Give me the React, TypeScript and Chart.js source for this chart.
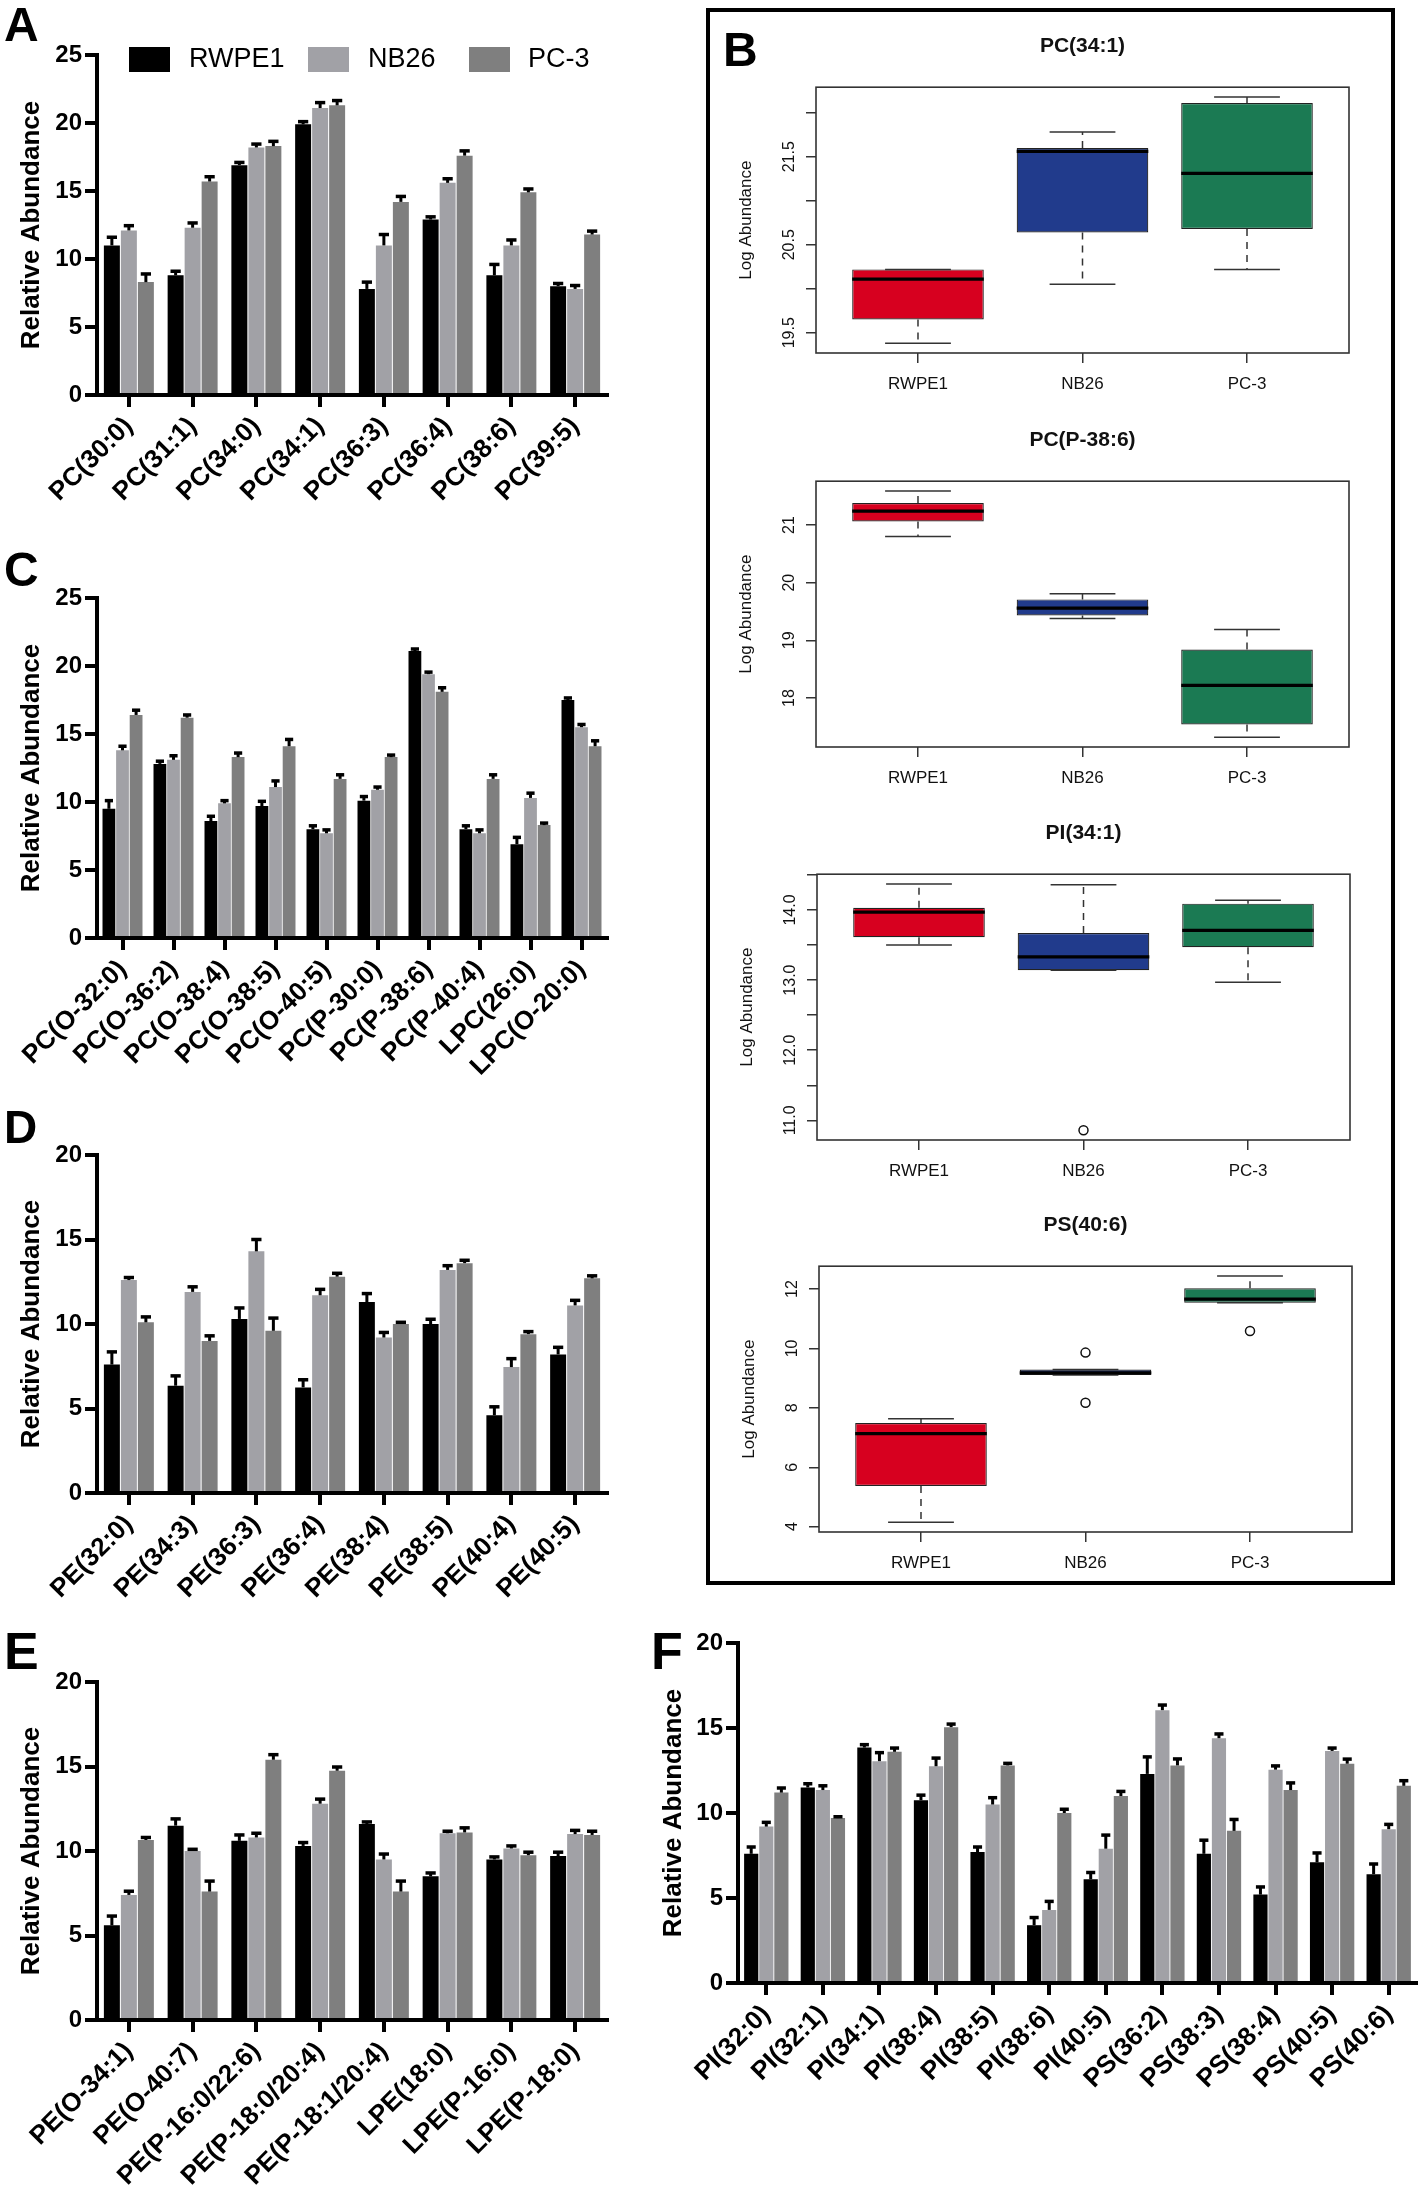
import React, { useEffect, useRef } from "react";
import { Chart, registerables } from "chart.js";

Chart.register(...registerables);

const FONT = "'Liberation Sans', Arial, Helvetica, sans-serif";
Chart.defaults.font.family = FONT;
Chart.defaults.color = "#000";

// ---------------- shared ----------------
const GROUPS = ["RWPE1", "NB26", "PC-3"];
const BAR_COLORS = ["#000000", "#a1a1a6", "#7f7f7f"];
const BOX_COLORS = ["#d7001f", "#213b8c", "#1b7a53"];

// ---------------- Panel A ----------------
const A_CATS = ["PC(30:0)", "PC(31:1)", "PC(34:0)", "PC(34:1)", "PC(36:3)", "PC(36:4)", "PC(38:6)", "PC(39:5)"];
const A_RWPE1 = [11.0, 8.8, 16.9, 19.9, 7.8, 12.9, 8.8, 8.0];
const A_RWPE1_ERR = [0.6, 0.3, 0.2, 0.2, 0.5, 0.2, 0.8, 0.2];
const A_NB26 = [12.1, 12.3, 18.2, 21.1, 11.0, 15.6, 11.0, 7.8];
const A_NB26_ERR = [0.35, 0.35, 0.25, 0.4, 0.8, 0.3, 0.4, 0.25];
const A_PC3 = [8.3, 15.7, 18.3, 21.3, 14.2, 17.6, 14.9, 11.8];
const A_PC3_ERR = [0.6, 0.35, 0.35, 0.35, 0.4, 0.35, 0.25, 0.25];
const A_YTICKS = [0, 5, 10, 15, 20, 25];

// ---------------- Panel C ----------------
const C_CATS = ["PC(O-32:0)", "PC(O-36:2)", "PC(O-38:4)", "PC(O-38:5)", "PC(O-40:5)", "PC(P-30:0)", "PC(P-38:6)", "PC(P-40:4)", "LPC(26:0)", "LPC(O-20:0)"];
const C_RWPE1 = [9.5, 12.8, 8.6, 9.7, 8.0, 10.1, 21.1, 8.0, 6.9, 17.5];
const C_RWPE1_ERR = [0.6, 0.2, 0.35, 0.35, 0.25, 0.3, 0.15, 0.25, 0.5, 0.15];
const C_NB26 = [13.8, 13.1, 9.9, 11.1, 7.7, 10.9, 19.4, 7.7, 10.3, 15.5];
const C_NB26_ERR = [0.3, 0.3, 0.2, 0.45, 0.25, 0.2, 0.15, 0.25, 0.35, 0.2];
const C_PC3 = [16.4, 16.2, 13.3, 14.1, 11.7, 13.3, 18.1, 11.7, 8.3, 14.1];
const C_PC3_ERR = [0.35, 0.2, 0.3, 0.5, 0.3, 0.15, 0.3, 0.3, 0.15, 0.4];
const C_YTICKS = [0, 5, 10, 15, 20, 25];

// ---------------- Panel D ----------------
const D_CATS = ["PE(32:0)", "PE(34:3)", "PE(36:3)", "PE(36:4)", "PE(38:4)", "PE(38:5)", "PE(40:4)", "PE(40:5)"];
const D_RWPE1 = [7.6, 6.35, 10.3, 6.25, 11.3, 10.0, 4.6, 8.2];
const D_RWPE1_ERR = [0.75, 0.58, 0.65, 0.45, 0.5, 0.28, 0.5, 0.42];
const D_NB26 = [12.6, 11.9, 14.3, 11.7, 9.2, 13.2, 7.45, 11.1];
const D_NB26_ERR = [0.15, 0.3, 0.7, 0.35, 0.3, 0.25, 0.5, 0.3];
const D_PC3 = [10.1, 9.0, 9.6, 12.8, 10.0, 13.6, 9.4, 12.7];
const D_PC3_ERR = [0.32, 0.3, 0.75, 0.2, 0.1, 0.17, 0.15, 0.15];
const D_YTICKS = [0, 5, 10, 15, 20];

// ---------------- Panel E ----------------
const E_CATS = ["PE(O-34:1)", "PE(O-40:7)", "PE(P-16:0/22:6)", "PE(P-18:0/20:4)", "PE(P-18:1/20:4)", "LPE(18:0)", "LPE(P-16:0)", "LPE(P-18:0)"];
const E_RWPE1 = [5.6, 11.5, 10.6, 10.3, 11.6, 8.5, 9.5, 9.7];
const E_RWPE1_ERR = [0.55, 0.4, 0.35, 0.2, 0.12, 0.2, 0.15, 0.23];
const E_NB26 = [7.4, 10.0, 10.8, 12.8, 9.5, 11.05, 10.15, 11.0];
const E_NB26_ERR = [0.22, 0.1, 0.25, 0.27, 0.32, 0.12, 0.15, 0.22];
const E_PC3 = [10.65, 7.6, 15.4, 14.75, 7.6, 11.1, 9.75, 10.95];
const E_PC3_ERR = [0.15, 0.62, 0.3, 0.22, 0.62, 0.27, 0.18, 0.22];
const E_YTICKS = [0, 5, 10, 15, 20];

// ---------------- Panel F ----------------
const F_CATS = ["PI(32:0)", "PI(32:1)", "PI(34:1)", "PI(38:4)", "PI(38:5)", "PI(38:6)", "PI(40:5)", "PS(36:2)", "PS(38:3)", "PS(38:4)", "PS(40:5)", "PS(40:6)"];
const F_RWPE1 = [7.6, 11.5, 13.85, 10.75, 7.7, 3.4, 6.1, 12.3, 7.6, 5.2, 7.1, 6.4];
const F_RWPE1_ERR = [0.4, 0.22, 0.17, 0.3, 0.3, 0.45, 0.4, 1.0, 0.8, 0.45, 0.55, 0.6];
const F_NB26 = [9.2, 11.35, 13.05, 12.75, 10.5, 4.3, 7.9, 16.05, 14.4, 12.55, 13.65, 9.05];
const F_NB26_ERR = [0.25, 0.25, 0.5, 0.48, 0.4, 0.5, 0.8, 0.3, 0.25, 0.22, 0.17, 0.28];
const F_PC3 = [11.2, 9.7, 13.6, 15.05, 12.8, 10.0, 11.0, 12.8, 8.95, 11.35, 12.9, 11.6];
const F_PC3_ERR = [0.27, 0.08, 0.22, 0.18, 0.12, 0.22, 0.27, 0.38, 0.67, 0.42, 0.27, 0.3];
const F_YTICKS = [0, 5, 10, 15, 20];

// ---------------- Panel B (box plots) ----------------
const GROUP_POS = [1, 2, 3];

const B1_TITLE = "PC(34:1)";
const B1_LOW = [19.38, 20.05, 20.22];
const B1_Q1 = [19.65, 20.64, 20.68];
const B1_MED = [20.11, 21.56, 21.31];
const B1_Q3 = [20.22, 21.6, 22.11];
const B1_HIGH = [20.22, 21.78, 22.18];
const B1_OUT_X: number[] = [];
const B1_OUT_Y: number[] = [];
const B1_TICKS = [19.5, 20.0, 20.5, 21.0, 21.5, 22.0];
const B1_TICK_LABELS = ["19.5", "", "20.5", "", "21.5", ""];

const B2_TITLE = "PC(P-38:6)";
const B2_LOW = [20.8, 19.38, 17.32];
const B2_Q1 = [21.06, 19.43, 17.54];
const B2_MED = [21.24, 19.56, 18.22];
const B2_Q3 = [21.38, 19.71, 18.84];
const B2_HIGH = [21.59, 19.81, 19.19];
const B2_OUT_X: number[] = [];
const B2_OUT_Y: number[] = [];
const B2_TICKS = [18, 19, 20, 21];
const B2_TICK_LABELS = ["18", "19", "20", "21"];

const B3_TITLE = "PI(34:1)";
const B3_LOW = [13.5, 13.14, 12.97];
const B3_Q1 = [13.61, 13.14, 13.47];
const B3_MED = [13.97, 13.33, 13.71];
const B3_Q3 = [14.03, 13.67, 14.09];
const B3_HIGH = [14.37, 14.36, 14.14];
const B3_OUT_X = [2];
const B3_OUT_Y = [10.86];
const B3_TICKS = [11.0, 11.5, 12.0, 12.5, 13.0, 13.5, 14.0, 14.5];
const B3_TICK_LABELS = ["11.0", "", "12.0", "", "13.0", "", "14.0", ""];

const B4_TITLE = "PS(40:6)";
const B4_LOW = [4.15, 9.11, 11.54];
const B4_Q1 = [5.37, 9.11, 11.54];
const B4_MED = [7.13, 9.18, 11.66];
const B4_Q3 = [7.49, 9.29, 12.03];
const B4_HIGH = [7.63, 9.29, 12.44];
const B4_OUT_X = [2, 2, 3];
const B4_OUT_Y = [9.86, 8.17, 10.59];
const B4_TICKS = [4, 6, 8, 10, 12];
const B4_TICK_LABELS = ["4", "6", "8", "10", "12"];

// ---------------- plugins ----------------
const errorBarPlugin = {
  id: "errorBars",
  afterDatasetsDraw(chart: any) {
    const ctx = chart.ctx;
    const yScale = chart.scales.y;
    chart.data.datasets.forEach((ds: any, i: number) => {
      const meta = chart.getDatasetMeta(i);
      if (!ds.errors) return;
      meta.data.forEach((bar: any, j: number) => {
        const v = ds.data[j];
        const e = ds.errors[j];
        const yTop = yScale.getPixelForValue(v + e);
        const capHalf = bar.width * 0.32;
        ctx.save();
        ctx.strokeStyle = "#000";
        ctx.lineWidth = 3;
        ctx.beginPath();
        ctx.moveTo(bar.x, bar.y);
        ctx.lineTo(bar.x, yTop);
        ctx.stroke();
        ctx.lineWidth = 3.5;
        ctx.beginPath();
        ctx.moveTo(bar.x - capHalf, yTop);
        ctx.lineTo(bar.x + capHalf, yTop);
        ctx.stroke();
        ctx.restore();
      });
    });
  },
};

const boxPlugin = {
  id: "boxWhiskers",
  afterDatasetsDraw(chart: any) {
    const ctx = chart.ctx;
    const ds = chart.data.datasets[0];
    const meta = chart.getDatasetMeta(0);
    const y = chart.scales.y;
    meta.data.forEach((bar: any, i: number) => {
      const half = bar.width / 2;
      const q1 = y.getPixelForValue(ds.data[i].y[0]);
      const q3 = y.getPixelForValue(ds.data[i].y[1]);
      const lo = y.getPixelForValue(ds.low[i]);
      const hi = y.getPixelForValue(ds.high[i]);
      const md = y.getPixelForValue(ds.med[i]);
      ctx.save();
      ctx.strokeStyle = "#333";
      ctx.lineWidth = 1.5;
      ctx.setLineDash([7, 6]);
      ctx.beginPath();
      ctx.moveTo(bar.x, q3);
      ctx.lineTo(bar.x, hi);
      ctx.moveTo(bar.x, q1);
      ctx.lineTo(bar.x, lo);
      ctx.stroke();
      ctx.setLineDash([]);
      ctx.beginPath();
      ctx.moveTo(bar.x - half / 2, hi);
      ctx.lineTo(bar.x + half / 2, hi);
      ctx.moveTo(bar.x - half / 2, lo);
      ctx.lineTo(bar.x + half / 2, lo);
      ctx.stroke();
      ctx.strokeStyle = "#000";
      ctx.lineWidth = 3.2;
      ctx.beginPath();
      ctx.moveTo(bar.x - half, md);
      ctx.lineTo(bar.x + half, md);
      ctx.stroke();
      ctx.restore();
    });
    const a = chart.chartArea;
    ctx.save();
    ctx.strokeStyle = "#333";
    ctx.lineWidth = 1.6;
    ctx.strokeRect(a.left, a.top, a.right - a.left, a.bottom - a.top);
    ctx.fillStyle = "#111";
    ctx.font = `16px ${FONT}`;
    ctx.textAlign = "center";
    ctx.textBaseline = "alphabetic";
    y.ticks.forEach((t: any) => {
      if (!t.label) return;
      const py = y.getPixelForValue(t.value);
      ctx.save();
      ctx.translate(a.left - 22, py);
      ctx.rotate(-Math.PI / 2);
      ctx.fillText(String(t.label), 0, 0);
      ctx.restore();
    });
    ctx.restore();
  },
};

// ---------------- config builders ----------------
function makeBarConfig(p: any) {
  const gridOpts = {
    display: true,
    offset: false,
    drawOnChartArea: false,
    drawTicks: true,
    tickLength: 12,
    tickWidth: 4,
    tickColor: "#000",
    color: "#000",
    lineWidth: 4,
  };
  return {
    type: "bar",
    data: {
      labels: p.cats,
      datasets: GROUPS.map((g, k) => ({
        label: g,
        data: p.values[k],
        errors: p.errors[k],
        backgroundColor: BAR_COLORS[k],
        borderWidth: 0,
        categoryPercentage: 0.8,
        barPercentage: 0.94,
      })),
    },
    options: {
      responsive: false,
      animation: false,
      events: [],
      layout: { padding: { top: 20, right: p.padRight, left: 0, bottom: 0 } },
      plugins: { legend: { display: false }, tooltip: { enabled: false }, title: { display: false } },
      scales: {
        x: {
          type: "category",
          offset: true,
          grid: gridOpts,
          border: { display: true, color: "#000", width: 4 },
          ticks: { autoSkip: false, minRotation: 45, maxRotation: 45, padding: 4, color: "#000", font: { size: 26, weight: "bold" } },
          afterFit: (s: any) => {
            s.height = p.xHeight;
          },
        },
        y: {
          min: 0,
          max: p.yMax,
          afterBuildTicks: (s: any) => {
            s.ticks = p.yTicks.map((v: number) => ({ value: v }));
          },
          grid: gridOpts,
          border: { display: true, color: "#000", width: 4 },
          ticks: { padding: 3, color: "#000", font: { size: 24, weight: "bold" } },
          title: {
            display: true,
            text: "Relative Abundance",
            color: "#000",
            font: { size: 26, weight: "bold" },
            padding: { top: p.titlePad, bottom: 0 },
          },
          afterFit: (s: any) => {
            s.width = p.yWidth;
          },
        },
      },
    },
    plugins: [errorBarPlugin],
  };
}

function makeBoxConfig(b: any) {
  const gridOpts = {
    display: true,
    offset: false,
    drawOnChartArea: false,
    drawTicks: true,
    tickLength: 10,
    tickWidth: 1.5,
    tickColor: "#333",
    color: "#333",
    lineWidth: 1.5,
  };
  return {
    type: "bar",
    data: {
      datasets: [
        {
          type: "bar",
          data: GROUP_POS.map((x, i) => ({ x, y: [b.q1[i], b.q3[i]] })),
          low: b.low,
          med: b.med,
          high: b.high,
          backgroundColor: BOX_COLORS,
          borderColor: "#222",
          borderWidth: 1.2,
          borderSkipped: false,
          categoryPercentage: 0.8,
          barPercentage: 1,
        },
        {
          type: "scatter",
          data: b.outX.map((x: number, i: number) => ({ x, y: b.outY[i] })),
          pointStyle: "circle",
          pointRadius: 4.5,
          backgroundColor: "rgba(0,0,0,0)",
          borderColor: "#111",
          borderWidth: 1.5,
        },
      ],
    },
    options: {
      responsive: false,
      animation: false,
      events: [],
      layout: { padding: { top: 0, right: 36, left: 0, bottom: 0 } },
      plugins: {
        legend: { display: false },
        tooltip: { enabled: false },
        title: {
          display: true,
          text: b.title,
          fullSize: false,
          color: "#111",
          font: { size: 21, weight: "bold" },
          padding: { top: 24, bottom: 28 },
        },
      },
      scales: {
        x: {
          type: "linear",
          min: 0.38,
          max: 3.62,
          offset: false,
          afterBuildTicks: (s: any) => {
            s.ticks = GROUP_POS.map((v) => ({ value: v }));
          },
          grid: gridOpts,
          border: { display: false },
          ticks: {
            callback: (_v: any, i: number) => GROUPS[i],
            autoSkip: false,
            maxRotation: 0,
            minRotation: 0,
            padding: 11,
            color: "#111",
            font: { size: 17 },
          },
          afterFit: (s: any) => {
            s.height = 60;
          },
        },
        y: {
          type: "linear",
          min: b.min,
          max: b.max,
          afterBuildTicks: (s: any) => {
            s.ticks = b.ticks.map((v: number) => ({ value: v }));
          },
          grid: gridOpts,
          border: { display: false },
          ticks: { display: false, callback: (_v: any, i: number) => b.tickLabels[i] },
          title: {
            display: true,
            text: "Log Abundance",
            color: "#111",
            font: { size: 17 },
            padding: { top: 20, bottom: 0 },
          },
          afterFit: (s: any) => {
            s.width = 100;
          },
        },
      },
    },
    plugins: [boxPlugin],
  };
}

// ---------------- components ----------------
function ChartCanvas(props: { left: number; top: number; width: number; height: number; make: () => any }) {
  const ref = useRef<HTMLCanvasElement>(null);
  useEffect(() => {
    const chart = new Chart(ref.current as HTMLCanvasElement, props.make());
    return () => chart.destroy();
  }, []);
  return (
    <canvas
      ref={ref}
      width={props.width}
      height={props.height}
      style={{ position: "absolute", left: props.left, top: props.top, width: props.width, height: props.height }}
    />
  );
}

function Letter(props: { ch: string; left: number; top: number; size: number }) {
  return (
    <div
      style={{
        position: "absolute",
        left: props.left,
        top: props.top,
        fontFamily: FONT,
        fontWeight: "bold",
        fontSize: props.size,
        lineHeight: 1,
        color: "#000",
      }}
    >
      {props.ch}
    </div>
  );
}

const LEGEND_SQ_X = [129, 308, 469];
const LEGEND_TX_X = [189, 368, 528];

export default function App() {
  const barPanels = [
    { key: "A", left: 0, top: 35, width: 620, height: 480, cfg: { cats: A_CATS, values: [A_RWPE1, A_NB26, A_PC3], errors: [A_RWPE1_ERR, A_NB26_ERR, A_PC3_ERR], yMax: 25, yTicks: A_YTICKS, padRight: 13, xHeight: 120, yWidth: 97, titlePad: 16 } },
    { key: "C", left: 0, top: 578, width: 620, height: 510, cfg: { cats: C_CATS, values: [C_RWPE1, C_NB26, C_PC3], errors: [C_RWPE1_ERR, C_NB26_ERR, C_PC3_ERR], yMax: 25, yTicks: C_YTICKS, padRight: 13, xHeight: 150, yWidth: 97, titlePad: 16 } },
    { key: "D", left: 0, top: 1135, width: 620, height: 488, cfg: { cats: D_CATS, values: [D_RWPE1, D_NB26, D_PC3], errors: [D_RWPE1_ERR, D_NB26_ERR, D_PC3_ERR], yMax: 20, yTicks: D_YTICKS, padRight: 13, xHeight: 130, yWidth: 97, titlePad: 16 } },
    { key: "E", left: 0, top: 1662, width: 620, height: 532, cfg: { cats: E_CATS, values: [E_RWPE1, E_NB26, E_PC3], errors: [E_RWPE1_ERR, E_NB26_ERR, E_PC3_ERR], yMax: 20, yTicks: E_YTICKS, padRight: 13, xHeight: 174, yWidth: 97, titlePad: 16 } },
    { key: "F", left: 640, top: 1623, width: 778, height: 510, cfg: { cats: F_CATS, values: [F_RWPE1, F_NB26, F_PC3], errors: [F_RWPE1_ERR, F_NB26_ERR, F_PC3_ERR], yMax: 20, yTicks: F_YTICKS, padRight: 1, xHeight: 150, yWidth: 98, titlePad: 18 } },
  ];

  const boxPanels = [
    { key: "B1", left: 716, top: 10, cfg: { title: B1_TITLE, low: B1_LOW, q1: B1_Q1, med: B1_MED, q3: B1_Q3, high: B1_HIGH, outX: B1_OUT_X, outY: B1_OUT_Y, ticks: B1_TICKS, tickLabels: B1_TICK_LABELS, min: 19.27, max: 22.29 } },
    { key: "B2", left: 716, top: 404, cfg: { title: B2_TITLE, low: B2_LOW, q1: B2_Q1, med: B2_MED, q3: B2_Q3, high: B2_HIGH, outX: B2_OUT_X, outY: B2_OUT_Y, ticks: B2_TICKS, tickLabels: B2_TICK_LABELS, min: 17.15, max: 21.76 } },
    { key: "B3", left: 717, top: 797, cfg: { title: B3_TITLE, low: B3_LOW, q1: B3_Q1, med: B3_MED, q3: B3_Q3, high: B3_HIGH, outX: B3_OUT_X, outY: B3_OUT_Y, ticks: B3_TICKS, tickLabels: B3_TICK_LABELS, min: 10.72, max: 14.51 } },
    { key: "B4", left: 719, top: 1189, cfg: { title: B4_TITLE, low: B4_LOW, q1: B4_Q1, med: B4_MED, q3: B4_Q3, high: B4_HIGH, outX: B4_OUT_X, outY: B4_OUT_Y, ticks: B4_TICKS, tickLabels: B4_TICK_LABELS, min: 3.82, max: 12.77 } },
  ];

  return (
    <div style={{ position: "absolute", left: 0, top: 0, width: 1418, height: 2194, background: "#fff", overflow: "hidden" }}>
      <div
        style={{
          position: "absolute",
          left: 706,
          top: 8,
          width: 689,
          height: 1577,
          border: "4px solid #000",
          boxSizing: "border-box",
        }}
      />
      {barPanels.map((p) => (
        <ChartCanvas key={p.key} left={p.left} top={p.top} width={p.width} height={p.height} make={() => makeBarConfig(p.cfg)} />
      ))}
      {boxPanels.map((p) => (
        <ChartCanvas key={p.key} left={p.left} top={p.top} width={669} height={403} make={() => makeBoxConfig(p.cfg)} />
      ))}
      {GROUPS.map((g, k) => (
        <React.Fragment key={g}>
          <div
            style={{
              position: "absolute",
              left: LEGEND_SQ_X[k],
              top: 47,
              width: 41,
              height: 25,
              background: BAR_COLORS[k],
            }}
          />
          <div
            style={{
              position: "absolute",
              left: LEGEND_TX_X[k],
              top: 45,
              fontFamily: FONT,
              fontSize: 27,
              lineHeight: "27px",
              color: "#000",
              whiteSpace: "nowrap",
            }}
          >
            {g}
          </div>
        </React.Fragment>
      ))}
      <Letter ch="A" left={4} top={1} size={48} />
      <Letter ch="B" left={723} top={26} size={48} />
      <Letter ch="C" left={4} top={546} size={48} />
      <Letter ch="D" left={4} top={1104} size={46} />
      <Letter ch="E" left={4} top={1625} size={52} />
      <Letter ch="F" left={651} top={1625} size={52} />
    </div>
  );
}
